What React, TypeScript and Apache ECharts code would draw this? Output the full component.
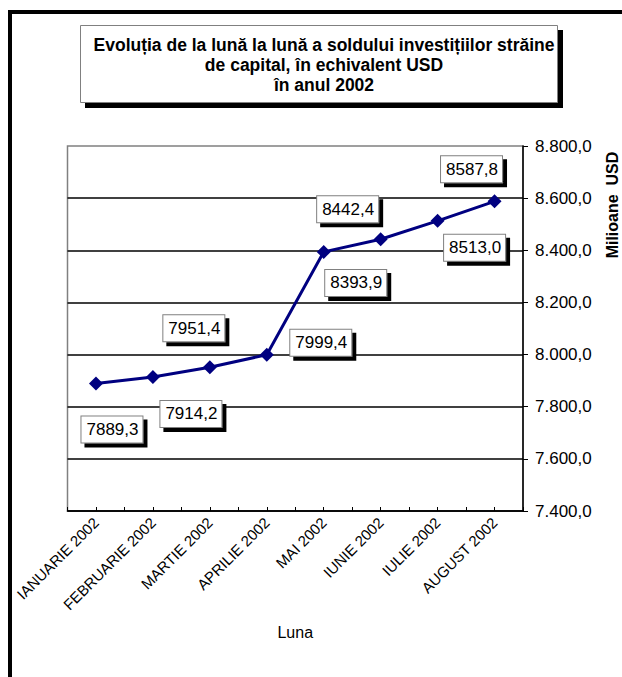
import React, { useEffect, useRef } from "react";
import * as echarts from "echarts";

const months = [
  "IANUARIE 2002",
  "FEBRUARIE 2002",
  "MARTIE 2002",
  "APRILIE 2002",
  "MAI 2002",
  "IUNIE 2002",
  "IULIE 2002",
  "AUGUST 2002",
];
const values = [7889.3, 7914.2, 7951.4, 7999.4, 8393.9, 8442.4, 8513.0, 8587.8];
const yMin = 7400;
const yMax = 8800;
const yStep = 200;
const tickSlots = ["", "", "", "", "", "", "", "", "", "", "", "", "", "", "", ""];
const labelOffsets = [
  [16, 46],
  [38, 37],
  [-16, -39],
  [54, -12],
  [32, 31],
  [-33, -30],
  [37, 27],
  [-23, -32],
];

const FONT = "Liberation Sans";

const fmtAxis = (v: number) => {
  const [i, d] = v.toFixed(1).split(".");
  return i.replace(/\B(?=(\d{3})+(?!\d))/g, ".") + "," + d;
};
const fmtVal = (v: number) => v.toFixed(1).replace(".", ",");

export default function App() {
  const ref = useRef<HTMLDivElement>(null);
  useEffect(() => {
    if (!ref.current) return;
    const chart = echarts.init(ref.current, undefined, { renderer: "svg" });
    const option: any = {
      animation: false,
      backgroundColor: "#ffffff",
      textStyle: { fontFamily: FONT },
      title: {
        text: "Evoluția de la lună la lună a soldului investițiilor străine\nde capital, în echivalent USD\nîn anul 2002",
        left: 319,
        top: 30,
        textAlign: "center",
        z: 10,
        textStyle: {
          fontFamily: FONT,
          fontSize: 17.5,
          fontWeight: "bold",
          lineHeight: 20,
          color: "#000",
        },
      },
      graphic: [
        { type: "rect", shape: { x: 8, y: 10, width: 4, height: 667 }, style: { fill: "#000" }, silent: true },
        { type: "rect", shape: { x: 8, y: 10, width: 614, height: 4 }, style: { fill: "#000" }, silent: true },
        { type: "rect", shape: { x: 85, y: 30, width: 478, height: 78 }, style: { fill: "#000" }, silent: true, z: 1 },
        {
          type: "rect",
          shape: { x: 80.5, y: 25.5, width: 477, height: 77 },
          style: { fill: "#fff", stroke: "#808080", lineWidth: 1 },
          silent: true,
          z: 2,
        },
        {
          type: "text",
          x: 612,
          y: 205,
          rotation: Math.PI / 2,
          style: {
            text: "Milioane  USD",
            fontFamily: FONT,
            fontSize: 16,
            fontWeight: "bold",
            fill: "#000",
            align: "center",
            verticalAlign: "middle",
          },
          silent: true,
        },
      ],
      grid: {
        left: 67.5,
        right: 99,
        top: 146,
        bottom: 166,
        show: true,
        borderColor: "#808080",
        borderWidth: 1.5,
        containLabel: false,
      },
      xAxis: [
        {
          type: "category",
          data: months,
          boundaryGap: true,
          position: "bottom",
          axisLine: { show: true, lineStyle: { color: "#000", width: 1.5 } },
          axisTick: { show: false },
          axisLabel: {
            rotate: 45,
            interval: 0,
            fontSize: 15,
            color: "#000",
            fontFamily: FONT,
            margin: 9,
          },
          name: "Luna",
          nameLocation: "middle",
          nameGap: 113,
          nameTextStyle: { fontSize: 16, color: "#000", fontFamily: FONT },
          splitLine: { show: false },
        },
        {
          type: "category",
          data: tickSlots,
          boundaryGap: true,
          position: "bottom",
          axisLine: { show: false },
          axisTick: { show: true, inside: true, length: 4, lineStyle: { color: "#000", width: 1 } },
          axisLabel: { show: false },
          splitLine: { show: false },
        },
      ],
      yAxis: {
        type: "value",
        position: "right",
        min: yMin,
        max: yMax,
        interval: yStep,
        axisLine: { show: true, lineStyle: { color: "#000", width: 1.5 } },
        axisTick: { show: true, length: 5, lineStyle: { color: "#000", width: 1 } },
        axisLabel: {
          formatter: (v: number) => fmtAxis(v),
          fontSize: 17,
          color: "#000",
          fontFamily: FONT,
          margin: 12,
        },
        splitLine: {
          show: true,
          showMaxLine: false,
          lineStyle: { color: "#000", width: 1.5 },
        },
      },
      series: [
        {
          type: "line",
          xAxisIndex: 0,
          data: values.map((v, i) => ({
            value: v,
            label: { offset: labelOffsets[i] },
          })),
          symbol: "diamond",
          symbolSize: 14,
          lineStyle: { color: "#000080", width: 3 },
          itemStyle: { color: "#000080" },
          label: {
            show: true,
            position: "inside",
            formatter: (p: any) => fmtVal(p.value),
            fontSize: 17,
            color: "#000",
            fontFamily: FONT,
            backgroundColor: "#fff",
            borderColor: "#808080",
            borderWidth: 1,
            padding: [5, 4, 4, 5],
            shadowColor: "#000",
            shadowBlur: 0,
            shadowOffsetX: 4,
            shadowOffsetY: 4,
          },
          z: 3,
        },
      ],
    };
    chart.setOption(option);
    return () => chart.dispose();
  }, []);
  return (
    <div
      ref={ref}
      style={{ position: "absolute", left: 0, top: 0, width: 622, height: 677 }}
    />
  );
}
